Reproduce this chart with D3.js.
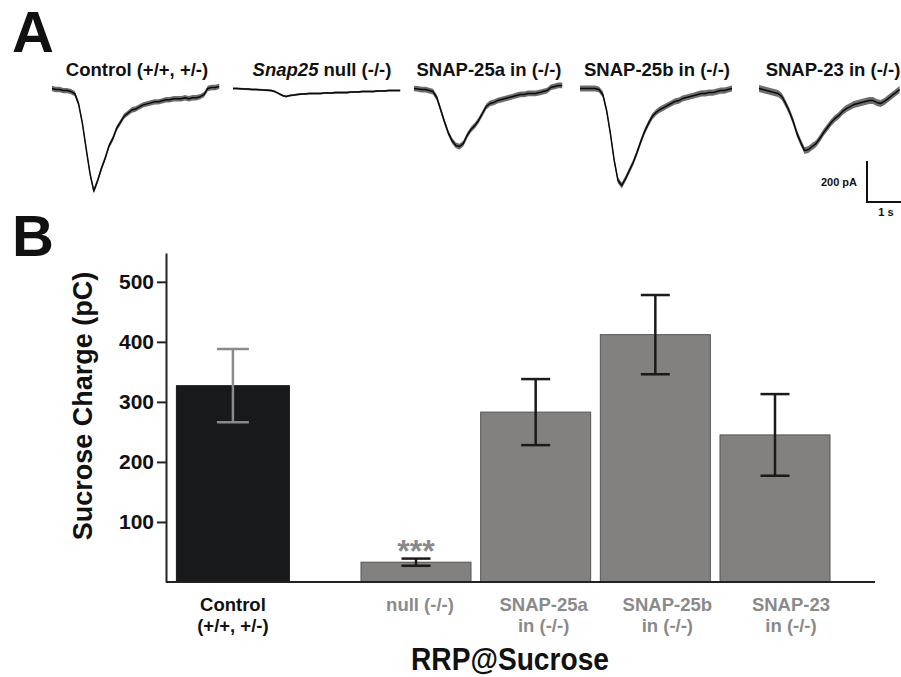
<!DOCTYPE html>
<html>
<head>
<meta charset="utf-8">
<script src="https://cdn.jsdelivr.net/npm/d3@7"></script>
<style>
  html, body { margin: 0; padding: 0; background: #ffffff; }
  svg { display: block; }
  text { font-family: "Liberation Sans", Arial, Helvetica, sans-serif; font-weight: bold; }
</style>
</head>
<body>
<svg id="chart" width="901" height="677"></svg>
<script>
// ---------------- DATA ----------------
// Panel B: RRP at sucrose (pC), mean and SEM
const categories = ["Control (+/+, +/-)", "null (-/-)", "SNAP-25a in (-/-)", "SNAP-25b in (-/-)", "SNAP-23 in (-/-)"];
const labelLines = [["Control", "(+/+, +/-)"], ["null (-/-)"], ["SNAP-25a", "in (-/-)"], ["SNAP-25b", "in (-/-)"], ["SNAP-23", "in (-/-)"]];
const chargeMean = [327, 33, 283, 412, 245];
const chargeSEM = [61, 6, 55, 66, 68];
const yTicks = [100, 200, 300, 400, 500];

// Panel A: example sucrose-evoked currents (pA), sampled every 0.1 s
const traceTitles = ["Control (+/+, +/-)", "Snap25 null (-/-)", "SNAP-25a in (-/-)", "SNAP-25b in (-/-)", "SNAP-23 in (-/-)"];
const traceStep = 0.1; // s
const traceControl = [0,-5,-5,-10,-10,-15,-25,-75,-170,-295,-415,-500,-450,-390,-340,-280,-245,-195,-165,-135,-120,-105,-100,-90,-80,-75,-70,-65,-65,-60,-55,-55,-50,-50,-50,-45,-50,-45,-45,-40,-30,0,5,5,10];
const traceNull = [0,0,-1,-2,-3,-5,-5,-6,-7,-8,-10,-15,-24,-34,-39,-34,-32,-29,-27,-27,-24,-24,-24,-24,-22,-22,-22,-20,-20,-20,-20,-17,-17,-17,-15,-15,-15,-15,-12,-12,-12,-10,-10,-10,-10];
const trace25a = [0,-2,-5,-5,-10,-15,-44,-102,-161,-215,-254,-278,-283,-268,-229,-200,-181,-156,-122,-88,-73,-68,-59,-54,-49,-44,-39,-34,-29,-29,-24,-24,-24,-20,-15,-10,5,10,15,15];
const trace25b = [0,0,0,0,0,-5,-29,-107,-220,-351,-449,-473,-439,-400,-361,-312,-259,-210,-171,-137,-117,-103,-93,-83,-73,-63,-59,-49,-44,-39,-34,-29,-24,-24,-20,-20,-15,-10,-10,-5,0];
const trace23 = [0,-5,-10,-15,-20,-24,-39,-73,-112,-161,-220,-264,-303,-298,-283,-269,-244,-215,-190,-166,-146,-132,-112,-98,-88,-78,-73,-68,-63,-59,-59,-68,-73,-63,-49,-34,-20,-5];
const traceNoise = [13, 5, 14, 15, 17]; // half-width of the noise band, pA
const scaleBarValues = [200, 1]; // pA, s

// ---------------- LAYOUT ----------------
const svg = d3.select("#chart");
const W = 901, H = 677;
svg.append("rect").attr("width", W).attr("height", H).attr("fill", "#fff");

// ---- Panel A ----
svg.append("text").attr("x", 12).attr("y", 52).attr("font-size", 58).attr("fill", "#111").text("A");

const traces = [traceControl, traceNull, trace25a, trace25b, trace23];
const panelStart = [52, 233, 414, 580, 759];
const titleCenter = [137, 322, 489, 657, 833];
const tScale = d3.scaleLinear().domain([0, 1]).range([0, 38]);      // 1 s = 38 px
const iScale = d3.scaleLinear().domain([0, -200]).range([88.5, 129.5]); // 200 pA = 41 px

traces.forEach((tr, k) => {
  const g = svg.append("g").attr("transform", `translate(${panelStart[k]},0)`);
  const pts = tr.map((v, i) => ({ t: i * traceStep, v }));
  const band = d3.area()
    .x(d => tScale(d.t))
    .y0(d => iScale(d.v - traceNoise[k]))
    .y1(d => iScale(d.v + traceNoise[k]));
  g.append("path").datum(pts).attr("d", band).attr("fill", "#6e6e6e").attr("stroke", "none");
  const line = d3.line().x(d => tScale(d.t)).y(d => iScale(d.v));
  g.append("path").datum(pts).attr("d", line).attr("fill", "none")
    .attr("stroke", "#0a0a0a").attr("stroke-width", 1.5).attr("stroke-linejoin", "round");
});

traceTitles.forEach((t, k) => {
  const txt = svg.append("text").attr("x", titleCenter[k]).attr("y", 76)
    .attr("text-anchor", "middle").attr("font-size", 18.5).attr("fill", "#111");
  if (t.startsWith("Snap25")) {
    txt.append("tspan").attr("font-style", "italic").text("Snap25");
    txt.append("tspan").text(t.slice(6));
  } else {
    txt.text(t);
  }
});

// scale bar
const sbX = 867, sbY = 202;
const sbH = iScale(-scaleBarValues[0]) - iScale(0);
const sbW = tScale(scaleBarValues[1]) - tScale(0);
svg.append("path")
  .attr("d", `M${sbX},${sbY - sbH}V${sbY}H${sbX + sbW}`)
  .attr("fill", "none").attr("stroke", "#111").attr("stroke-width", 2);
svg.append("text").attr("x", 857).attr("y", 186).attr("text-anchor", "end")
  .attr("font-size", 11).attr("fill", "#111").text(`${scaleBarValues[0]} pA`);
svg.append("text").attr("x", 886).attr("y", 216).attr("text-anchor", "middle")
  .attr("font-size", 11).attr("fill", "#111").text(`${scaleBarValues[1]} s`);

// ---- Panel B ----
svg.append("text").attr("x", 12).attr("y", 256).attr("font-size", 58).attr("fill", "#111").text("B");

const y = d3.scaleLinear().domain([0, 548]).range([582, 253]);
const xs = d3.scaleLinear().domain([1, 4]).range([416, 775]);
const pos = i => xs(i === 0 ? -0.53 : i);
const barW = 110;

// bars
svg.append("g").selectAll("rect").data(chargeMean).join("rect")
  .attr("x", (d, i) => pos(i) - barW / 2 - (i === 0 ? 1.5 : 0))
  .attr("y", d => y(d))
  .attr("width", (d, i) => i === 0 ? barW + 3 : barW)
  .attr("height", d => y(0) - y(d))
  .attr("fill", (d, i) => i === 0 ? "#18191b" : "#838180")
  .attr("stroke", (d, i) => i === 0 ? "#18191b" : "#555")
  .attr("stroke-width", 1);

// error bars
const eb = svg.append("g");
chargeMean.forEach((m, i) => {
  const c = pos(i), col = i === 0 ? "#8a8a8a" : "#1a1a1a";
  const hw = i === 0 ? 16 : 14.5;
  const top = y(m + chargeSEM[i]), bot = y(m - chargeSEM[i]);
  eb.append("line").attr("x1", c).attr("x2", c).attr("y1", top).attr("y2", bot)
    .attr("stroke", col).attr("stroke-width", 2.5);
  [top, bot].forEach(yy => eb.append("line").attr("x1", c - hw).attr("x2", c + hw)
    .attr("y1", yy).attr("y2", yy).attr("stroke", col).attr("stroke-width", 2.5));
});

// significance
svg.append("text").attr("x", pos(1)).attr("y", 562).attr("text-anchor", "middle")
  .attr("font-size", 32).attr("font-weight", "normal").attr("fill", "#8a8a8a").text("***");

// y axis
const yAxis = svg.append("g").attr("transform", "translate(166,0)")
  .call(d3.axisLeft(y).tickValues(yTicks).tickSize(9).tickSizeOuter(0).tickPadding(3));
yAxis.select(".domain").attr("stroke", "#222").attr("stroke-width", 2);
yAxis.selectAll(".tick line").attr("stroke", "#222").attr("stroke-width", 2);
yAxis.selectAll(".tick text").attr("font-size", 21).attr("fill", "#111")
  .attr("font-family", '"Liberation Sans", Arial, sans-serif').attr("font-weight", "bold");

// x baseline
svg.append("line").attr("x1", 166).attr("x2", 875).attr("y1", y(0)).attr("y2", y(0))
  .attr("stroke", "#222").attr("stroke-width", 2);

// category labels
labelLines.forEach((lines, i) => {
  const cx = pos(i) + i * 4;
  lines.forEach((ln, j) => {
    svg.append("text")
      .attr("x", cx).attr("y", 611 + j * 21)
      .attr("text-anchor", "middle").attr("font-size", 18.5)
      .attr("fill", i === 0 ? "#111" : "#8a8a8a").text(ln);
  });
});

// axis titles
svg.append("text").attr("transform", "translate(92,406) rotate(-90)")
  .attr("text-anchor", "middle").attr("font-size", 27).attr("fill", "#111")
  .text("Sucrose Charge (pC)");
svg.append("text").attr("transform", "translate(510,670) scale(0.88,1)")
  .attr("text-anchor", "middle").attr("font-size", 32).attr("fill", "#111").text("RRP@Sucrose");
</script>
</body>
</html>
